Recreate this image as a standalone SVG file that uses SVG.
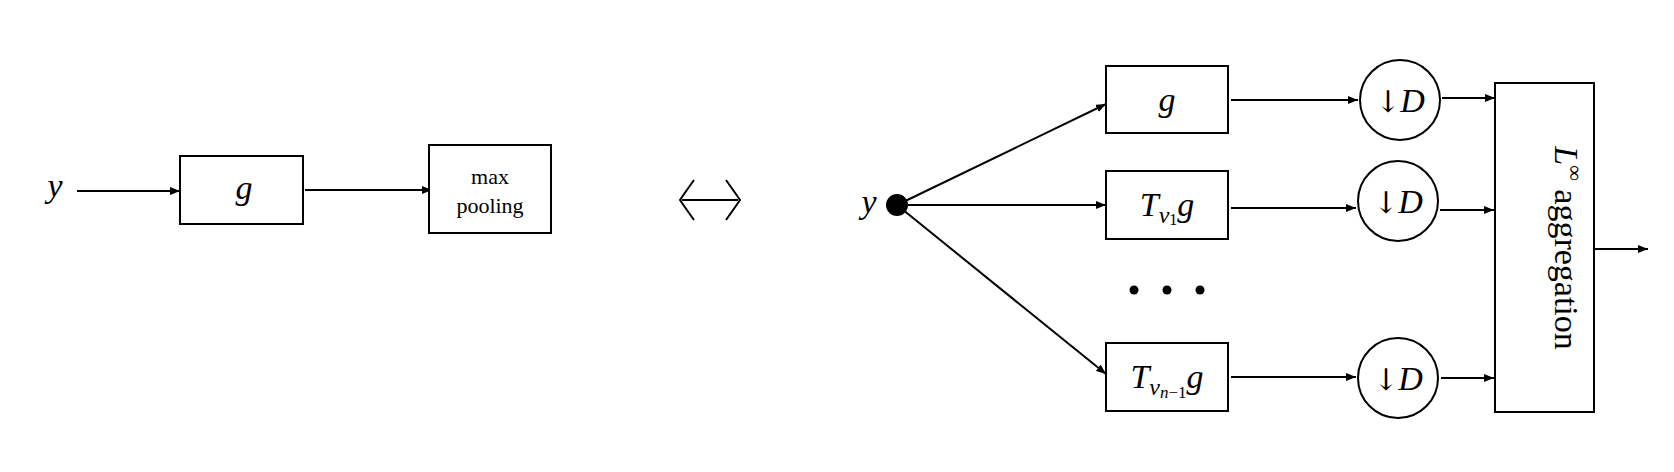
<svg xmlns="http://www.w3.org/2000/svg" width="1674" height="472" viewBox="0 0 1674 472">
<style>
.b{fill:#fff;stroke:#000;stroke-width:2}
.l{stroke:#000;stroke-width:2;fill:none}
.m{font-family:"Liberation Serif",serif;font-style:italic;font-size:34px;fill:#000}
.r{font-family:"Liberation Serif",serif;font-size:22px;fill:#000}
.s{font-family:"Liberation Serif",serif;font-style:italic;font-size:24px}
</style>
<defs><marker id="a" markerWidth="10" markerHeight="8" refX="10" refY="4" orient="auto" markerUnits="userSpaceOnUse"><path d="M0,0L10,4L0,8z" fill="#000"/></marker></defs>
<rect width="1674" height="472" fill="#fff"/>
<g id="connectors">
<line class="l" x1="77" y1="191" x2="180" y2="191" marker-end="url(#a)"/>
<line class="l" x1="305" y1="190" x2="432" y2="190" marker-end="url(#a)"/>
<line class="l" x1="897" y1="205" x2="1106" y2="104" marker-end="url(#a)"/>
<line class="l" x1="897" y1="205" x2="1106" y2="205" marker-end="url(#a)"/>
<line class="l" x1="897" y1="205" x2="1106" y2="374" marker-end="url(#a)"/>
<line class="l" x1="1231" y1="100" x2="1358" y2="100" marker-end="url(#a)"/>
<line class="l" x1="1231" y1="208" x2="1356" y2="208" marker-end="url(#a)"/>
<line class="l" x1="1231" y1="377" x2="1356" y2="377" marker-end="url(#a)"/>
<line class="l" x1="1442" y1="98" x2="1495" y2="98" marker-end="url(#a)"/>
<line class="l" x1="1440" y1="210" x2="1494" y2="210" marker-end="url(#a)"/>
<line class="l" x1="1441" y1="378" x2="1494" y2="378" marker-end="url(#a)"/>
<line class="l" x1="1594" y1="249" x2="1648" y2="249" marker-end="url(#a)"/>
</g>
<text class="m" x="55" y="197" text-anchor="middle">y</text>
<g id="g1"><rect class="b" x="180" y="156" width="123" height="68"/><text class="m" x="244" y="199" text-anchor="middle">g</text></g>
<g id="maxpool"><rect class="b" x="429" y="145" width="122" height="88"/><text class="r" x="490" y="184" text-anchor="middle">max</text><text class="r" x="490" y="213" text-anchor="middle">pooling</text></g>
<g id="equiv"><path class="l" d="M682,200H738" stroke-width="2.5"/><path class="l" stroke-width="2.5" d="M694,180Q684,194 680,200Q684,206 694,220M726,180Q736,194 740,200Q736,206 726,220"/></g>
<text class="m" x="869" y="213" text-anchor="middle">y</text>
<circle id="split" cx="897" cy="205" r="11" fill="#000"/>
<g id="b1"><rect class="b" x="1106" y="66" width="122" height="67"/><text class="m" x="1167" y="111" text-anchor="middle">g</text></g>
<g id="b2"><rect class="b" x="1106" y="171" width="122" height="68"/><text class="m" x="1167" y="216" text-anchor="middle">T<tspan class="s" dy="7">ν</tspan><tspan font-size="16" font-style="normal" dy="2">1</tspan><tspan dy="-9">g</tspan></text></g>
<g id="dots"><circle cx="1134" cy="290" r="4.5"/><circle cx="1167" cy="290" r="4.5"/><circle cx="1200" cy="290" r="4.5"/></g>
<g id="b3"><rect class="b" x="1106" y="343" width="122" height="68"/><text class="m" x="1167" y="388" text-anchor="middle">T<tspan class="s" dy="7">ν</tspan><tspan font-size="17" dy="3">n</tspan><tspan font-size="17" font-style="normal">−1</tspan><tspan dy="-10">g</tspan></text></g>
<g id="d1"><circle class="b" cx="1400" cy="100" r="40"/><text class="m" x="1400" y="112" text-anchor="middle"><tspan font-style="normal" font-family="DejaVu Serif" font-size="30">↓</tspan>D</text></g>
<g id="d2"><circle class="b" cx="1398" cy="201" r="40"/><text class="m" x="1398" y="213" text-anchor="middle"><tspan font-style="normal" font-family="DejaVu Serif" font-size="30">↓</tspan>D</text></g>
<g id="d3"><circle class="b" cx="1398" cy="378" r="40"/><text class="m" x="1398" y="390" text-anchor="middle"><tspan font-style="normal" font-family="DejaVu Serif" font-size="30">↓</tspan>D</text></g>
<g id="agg"><rect class="b" x="1495" y="83" width="99" height="329"/><text class="m" transform="translate(1545,248) rotate(90)" text-anchor="middle" y="-10">L<tspan font-size="22" font-style="normal" dy="-13">∞</tspan><tspan font-style="normal" dy="13"> aggregation</tspan></text></g>
</svg>
